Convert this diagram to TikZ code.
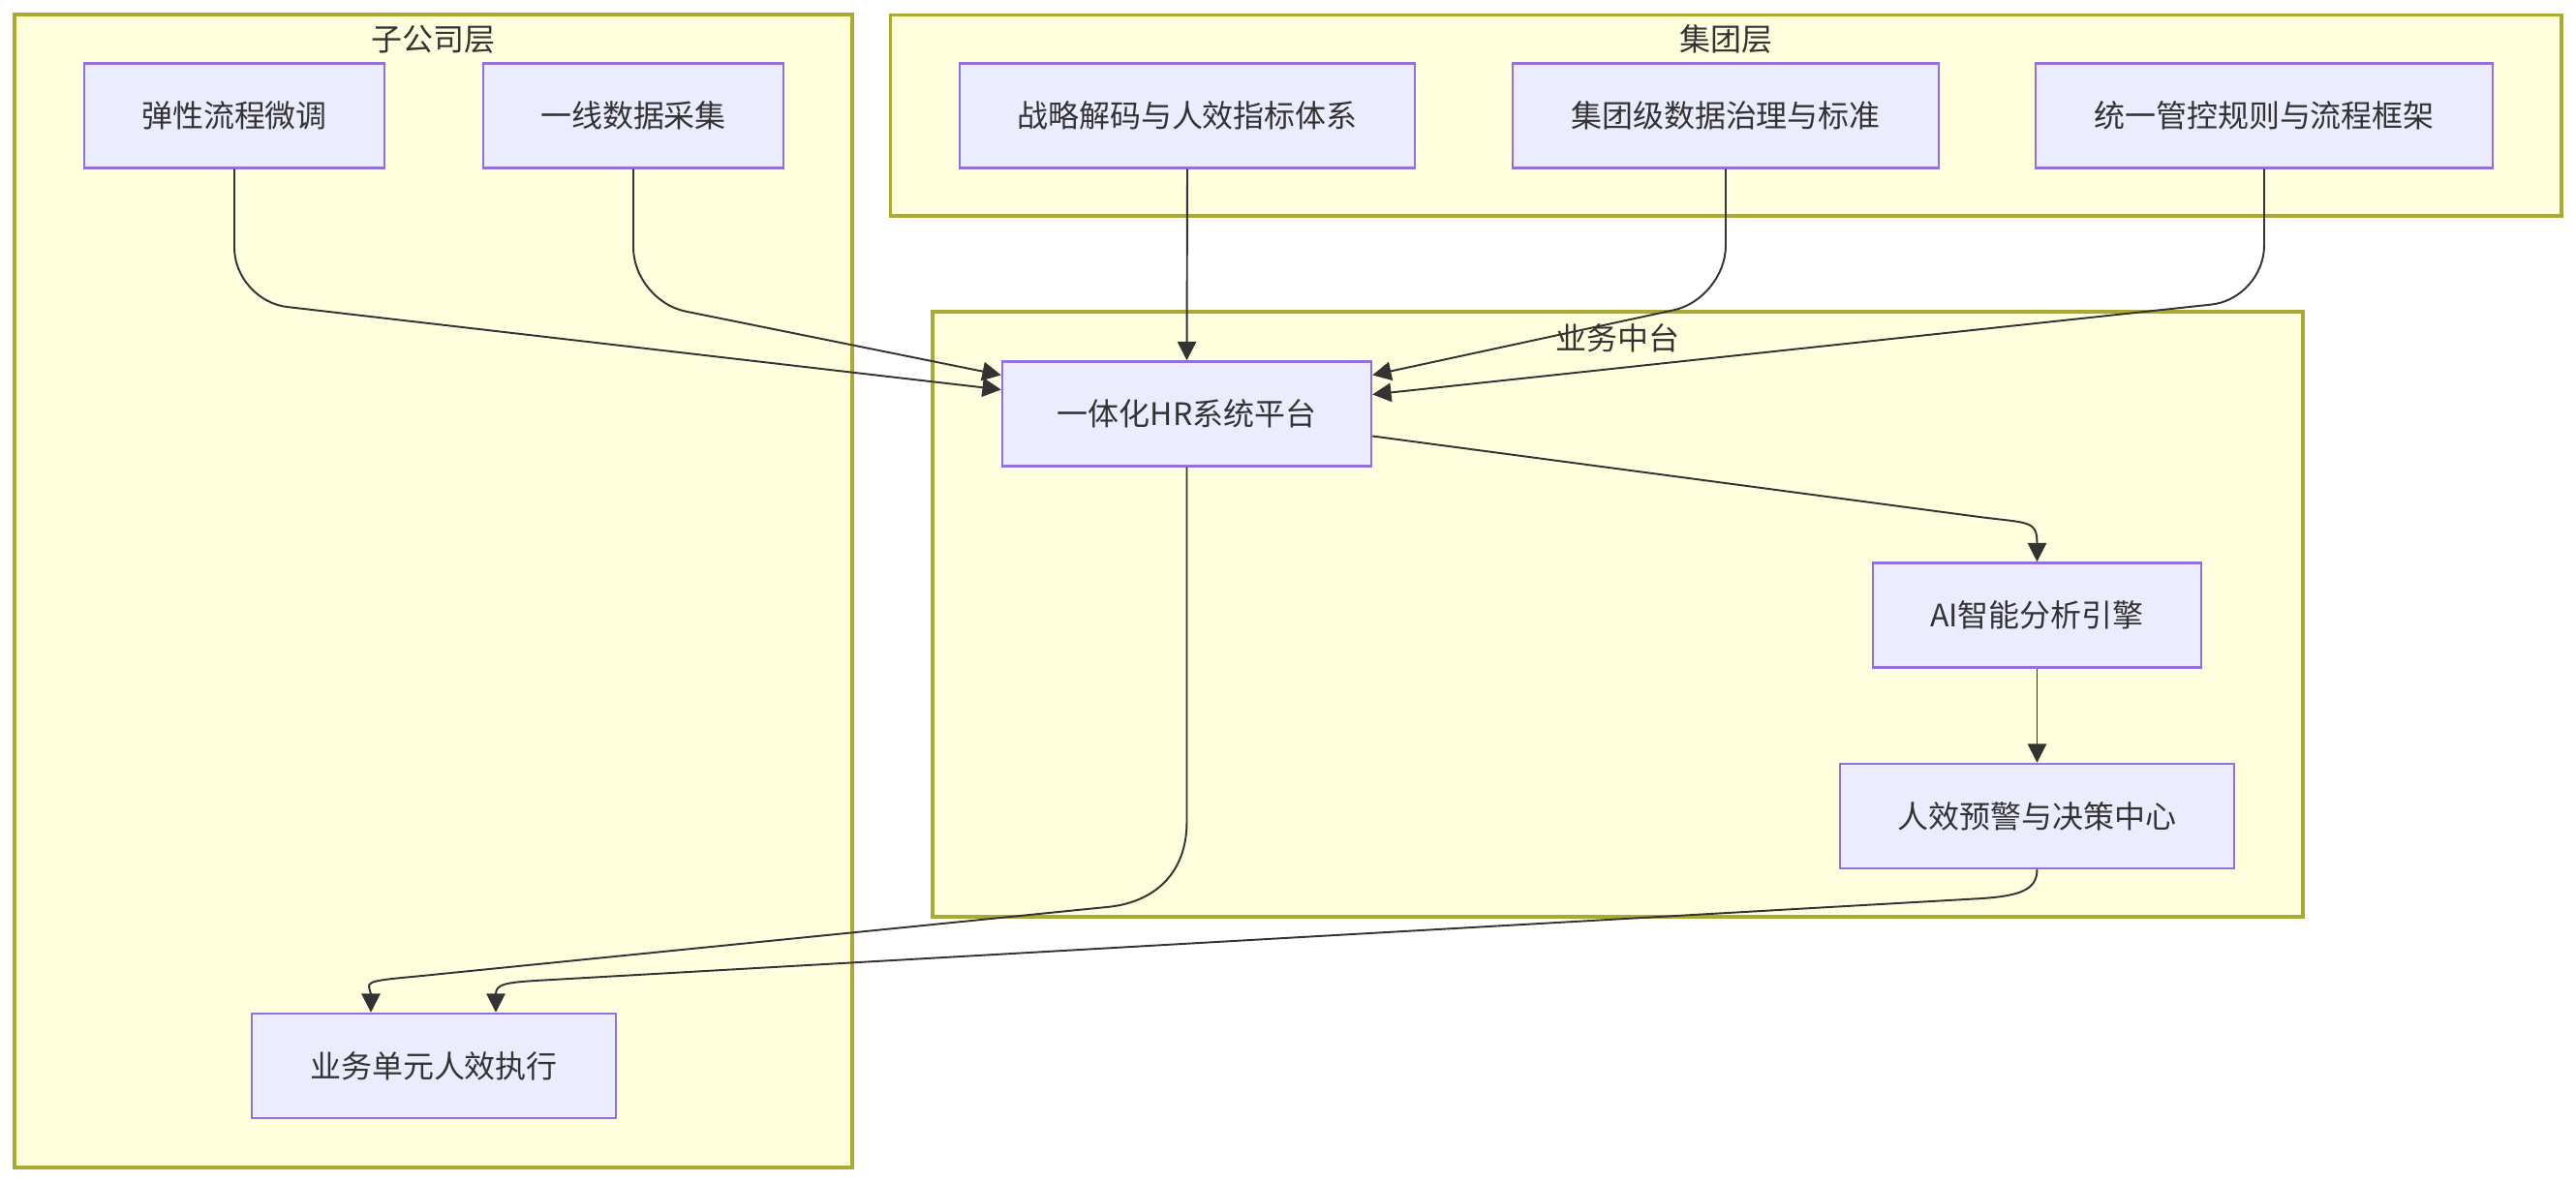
\documentclass[tikz,border=0pt]{standalone}
\usepackage{fontspec}
\usepackage{xcolor}
\usepackage{tikz}
\usetikzlibrary{arrows.meta,positioning}
\setmainfont{Noto Sans CJK SC}
\definecolor{ink}{HTML}{333333}
\definecolor{lane}{HTML}{AAAA33}
\definecolor{softlane}{HTML}{FFFFDE}
\definecolor{violet}{HTML}{9370DB}
\definecolor{softviolet}{HTML}{ECECFF}

\begin{document}
\begin{tikzpicture}[
  every node/.style={font=\fontsize{9.1}{11}\selectfont,text=ink,align=center},
  zone/.style={draw=lane,fill=softlane,line width=0.9pt},
  box/.style={rectangle,draw=violet,fill=softviolet,line width=0.7pt,minimum height=1.08cm,inner sep=0pt},
  flow/.style={-{Triangle[length=5.5pt,width=5.5pt]},draw=ink,line width=0.55pt}
]
\useasboundingbox (0,0) rectangle (26.6,-12.22);

% layers
\draw[zone] (0.15,-0.15) rectangle (8.80,-12.06);
\draw[zone] (9.195,-0.155) rectangle (26.45,-2.23);
\draw[zone] (9.63,-3.22) rectangle (23.78,-9.47);
\node (subtitle) at (4.475,-0.41) {子公司层};
\node (grouptitle) at (17.82,-0.40) {集团层};
\node (midtitle) at (16.705,-3.49) {业务中台};

\node[box,minimum width=3.10cm] (flex) at (2.42,-1.195) {弹性流程微调};
\node[box,minimum width=3.10cm] (collect) at (6.54,-1.195) {一线数据采集};
\node[box,minimum width=4.70cm] (strategy) at (12.26,-1.195) {战略解码与人效指标体系};
\node[box,minimum width=4.40cm] (govern) at (17.82,-1.195) {集团级数据治理与标准};
\node[box,minimum width=4.72cm] (rules) at (23.38,-1.195) {统一管控规则与流程框架};

\node[box,minimum width=3.81cm] (hr) at (12.255,-4.275) {一体化HR系统平台};
\node[box,minimum width=3.39cm] (ai) at (21.035,-6.355) {AI智能分析引擎};
\node[box,minimum width=4.07cm] (alert) at (21.035,-8.43) {人效预警与决策中心};
\node[box,minimum width=3.76cm] (exec) at (4.48,-11.01) {业务单元人效执行};

% into the platform
\foreach \a/\s in {flex/0.25,collect/0.4}
  \draw[flow,rounded corners=0.55cm] (\a.south) -- ++(0,-1.36) -- ([yshift=\s cm]hr.west);
\foreach \a/\s in {govern/0.4,rules/0.2}
  \draw[flow,rounded corners=0.55cm] (\a.south) -- ++(0,-1.34) -- ([yshift=\s cm]hr.east);
\draw[flow] (strategy.south) -- (hr.north);

% out of the platform
\draw[flow] ([yshift=-0.23cm]hr.east) -- ([xshift=-0.65cm,yshift=0.47cm]ai.north)
  .. controls +(0.55,-0.075) and +(0,0.25) .. ([yshift=0.19cm]ai.north) -- (ai.north);
\draw[flow] (ai.south) -- (alert.north);
\draw[flow] (hr.south) -- ++(0,-3.66) .. controls +(0,-0.55) and +(0.45,0.05) .. ++(-0.8,-0.88)
  -- ([xshift=-0.2cm,yshift=0.37cm]exec.north)
  .. controls +(-0.55,-0.05) and +(-0.03,0.12) .. ([xshift=-0.65cm,yshift=0.19cm]exec.north)
  -- ([xshift=-0.65cm]exec.north);
\draw[flow] (alert.south) .. controls +(0,-0.22) and +(0.4,0.025) .. ++(-0.6,-0.3)
  -- ([xshift=1.09cm,yshift=0.33cm]exec.north)
  .. controls +(-0.35,-0.02) and +(0,0.1) .. ([xshift=0.64cm,yshift=0.19cm]exec.north)
  -- ([xshift=0.64cm]exec.north);
\end{tikzpicture}
\end{document}
